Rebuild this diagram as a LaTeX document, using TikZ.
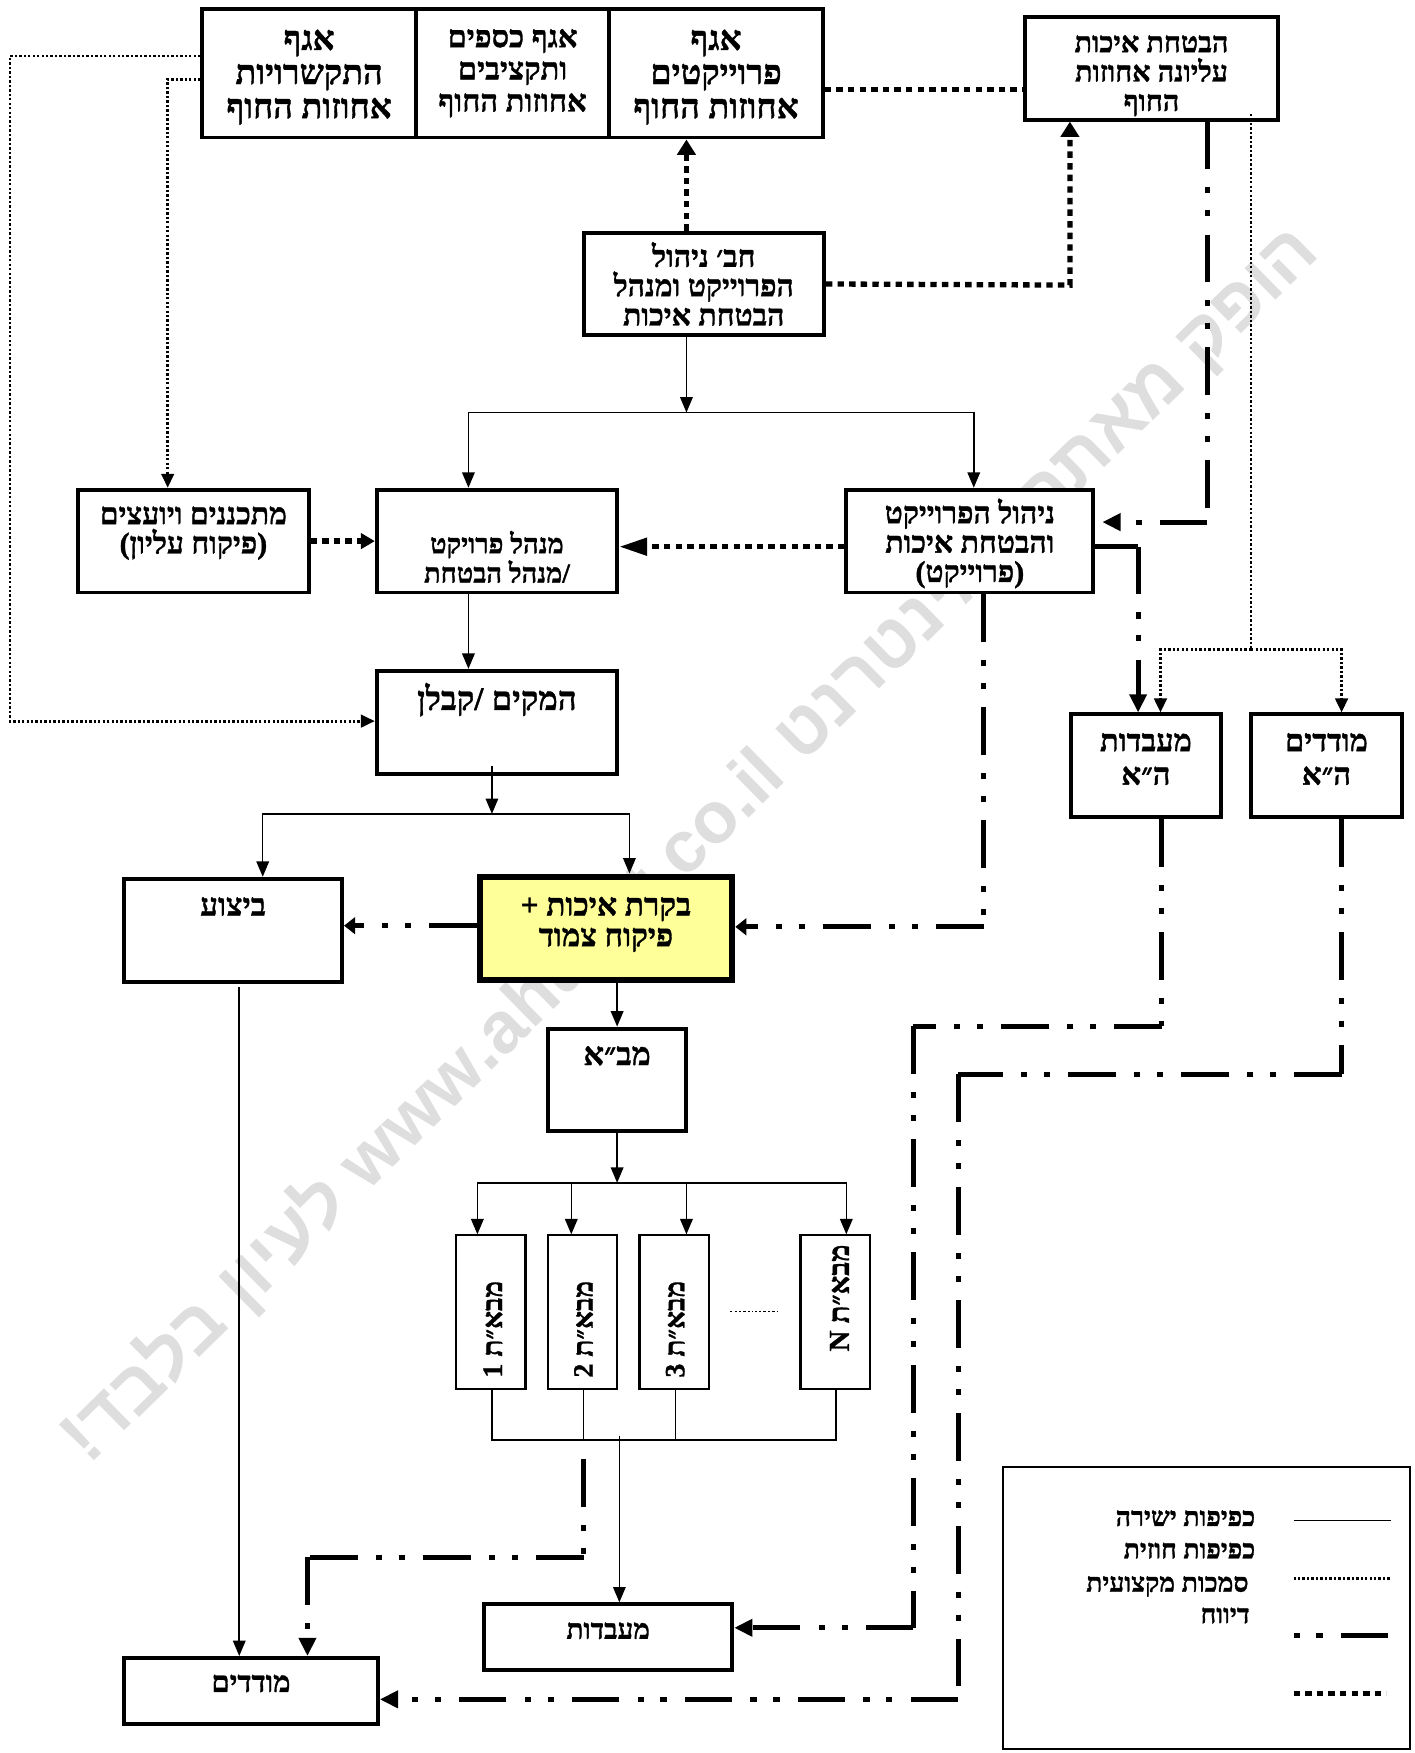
\documentclass[tikz,border=0pt]{standalone}
\usepackage{fontspec}
\usetikzlibrary{arrows.meta}
\TeXXeTstate=1
\newfontfamily\hebfont[Script=Hebrew,BoldFeatures={FakeBold=1.1}]{Liberation Serif}
\newfontfamily\wmfont[Script=Hebrew]{Liberation Sans}
\newcommand{\hb}[1]{\beginR #1\endR}
\newcommand{\txtS}[2]{\hebfont\bfseries\fontsize{#1}{#2}\selectfont}
\definecolor{boxyellow}{HTML}{FFFF99}
\tikzset{
  box/.style={draw=black,fill=white,line width=2.8pt,inner sep=0pt,align=center,font=\txtS{21.5}{21}},
  bigbox/.style={box,font=\txtS{24.5}{24.4}},
  thinbox/.style={draw=black,fill=white,line width=1.5pt,inner sep=0pt},
  rotlbl/.style={rotate=90,inner sep=0pt,font=\txtS{20}{24}},
  lbl/.style={inner sep=0pt,anchor=east,font=\txtS{19}{23}},
  thinline/.style={draw=black,line width=1.1pt},
  thinarrow/.style={thinline,-{Triangle[length=11pt,width=9pt]}},
  fineDots/.style={draw=black,line width=2pt,dash pattern=on 1.7pt off 1.5pt},
  fineDotsArrow/.style={fineDots,-{Triangle[length=10pt,width=9pt]}},
  heavyDots/.style={draw=black,line width=3.8pt,dash pattern=on 4.6pt off 3.7pt},
  heavyDotsArrow/.style={heavyDots,-{Triangle[length=11pt,width=13pt]}},
  report/.style={draw=black,line width=3.7pt,dash pattern=on 34pt off 13pt on 4.4pt off 12pt on 4.4pt off 13pt},
  reportArrow/.style={report,-{Triangle[length=13pt,width=12pt]}},
  reportShort/.style={report,-{Triangle[length=8pt,width=12pt]}},
}
% \bx[style]{name}{x1}{y1}{x2}{y2}{text}
\newcommand{\bx}[7][box]{\node[#1,minimum width={(#5-#3)*0.8pt},minimum height={(#6-#4)*0.8pt}] (#2) at ({(#3+#5)/2},{(#4+#6)/2}) {#7};}
\begin{document}
\begin{tikzpicture}[x=0.8pt,y=-0.8pt]
\useasboundingbox (0,0) rectangle (1264.8,1568);
\fill[white] (0,0) rectangle (1264.8,1568);
% watermark
\node[rotate=44.5,inner sep=0pt,text=black!13] (wm) at (617,755)
  {\wmfont\bfseries\fontsize{52}{56}\selectfont\beginR הופק מאתר האינטרנט \beginL www.ahuzot.co.il\endL{} לעיון בלבד!\endR};

% boxes
\bx[bigbox]{agfC}{181}{8}{372}{123}{\mbox{}\\[-4.2pt]\hb{אגף}\\\hb{התקשרויות}\\\hb{אחוזות החוף}}
\bx[box,font=\txtS{22}{23}]{agfB}{372}{8}{545}{123}{\hb{אגף כספים}\\\hb{ותקציבים}\\\hb{אחוזות החוף}}
\bx[bigbox]{agfA}{545}{8}{736}{123}{\mbox{}\\[-4.2pt]\hb{אגף}\\\hb{פרוייקטים}\\\hb{אחוזות החוף}}
\bx[box,font=\txtS{20.5}{21}]{qa}{917}{15}{1143}{107}{\mbox{}\\[2pt]\hb{הבטחת איכות}\\\hb{עליונה אחוזות}\\\hb{החוף}}
\bx{hq}{522}{208}{737}{300}{\hb{חב׳ ניהול}\\\hb{הפרוייקט ומנהל}\\\hb{הבטחת איכות}}
\bx{plan}{70}{438}{276}{530}{\hb{מתכננים ויועצים}\\\hb{(פיקוח עליון)}\\[-5pt]\mbox{}}
\bx[box,font=\txtS{19.5}{21}]{mgr}{337}{438}{552}{530}{\mbox{}\\[17.6pt]\hb{מנהל פרויקט}\\\hb{/מנהל הבטחת}}
\bx{proj}{757}{438}{978}{530}{\mbox{}\\[0pt]\hb{ניהול הפרוייקט}\\\hb{והבטחת איכות}\\\hb{(פרוייקט)}}
\bx[box,font=\txtS{23.5}{21}]{kab}{337}{600}{552}{692}{\hb{המקים /קבלן}\\[16pt]\mbox{}}
\bx[box,font=\txtS{22.5}{21}]{exec}{111}{786}{306}{878}{\hb{ביצוע}\\[13pt]\mbox{}}
\bx[box,fill=boxyellow,line width=4.3pt,font=\txtS{22.4}{22}]{qc}{429}{784}{655}{877}{\hb{בקרת איכות +}\\\hb{פיקוח צמוד}\\[-12pt]\mbox{}}
\bx[box,font=\txtS{23}{21}]{mba}{490}{920}{614}{1012}{\hb{מב״א}\\[14pt]\mbox{}}
\bx[thinbox]{lab1}{408}{1105}{470}{1242}{}
\bx[thinbox]{lab2}{490}{1105}{552}{1242}{}
\bx[thinbox]{lab3}{572}{1105}{634}{1242}{}
\bx[thinbox]{labN}{716}{1105}{778}{1242}{}
\node[rotlbl] (t1) at (441,1189) {\hb{מבא״ת 1}};
\node[rotlbl] (t2) at (522,1189) {\hb{מבא״ת 2}};
\node[rotlbl] (t3) at (604,1189) {\hb{מבא״ת 3}};
\node[rotlbl,font=\txtS{20.8}{24}] (tN) at (751,1161) {\hb{מבא״ת N}};
\bx[box,font=\txtS{22}{24}]{labHA}{958}{639}{1092}{731}{\hb{מעבדות}\\\hb{ה״א}\\[-14pt]\mbox{}}
\bx[box,font=\txtS{22}{24}]{surHA}{1119}{639}{1254}{731}{\hb{מודדים}\\\hb{ה״א}\\[-14pt]\mbox{}}
\bx[box,font=\txtS{20}{21}]{lab}{433}{1435}{655}{1494}{\hb{מעבדות}\\[-11.4pt]\mbox{}}
\bx[box,font=\txtS{21}{21}]{sur}{111}{1483}{338}{1542}{\hb{מודדים}\\[-10pt]\mbox{}}
\bx[thinbox]{legend}{897}{1312}{1261}{1564}{}

% reporting-chain heavy dotted
\draw[heavyDots] (agfA.east |- 0,80) -- (qa.west |- 0,80);
\draw[heavyDotsArrow] (hq.north -| 614,0) -- (agfA.south -| 614,0);
\draw[heavyDotsArrow] (hq.east) -- (957,255) -- (qa.south -| 957,0);
\draw[heavyDotsArrow,-{Triangle[length=10pt,width=11pt]}] (plan.east |- 0,484) -- (mgr.west |- 0,484);
\draw[heavyDotsArrow,-{Triangle[length=20pt,width=12pt]}] (proj.west |- 0,489) -- (mgr.east |- 0,489);

% direct lines
\coordinate (j1) at (614,369);
\draw[thinarrow] (hq.south -| j1) -- (j1);
\draw[thinarrow] (j1) -- (419,369) -- (mgr.north -| 419,0);
\draw[thinarrow] (j1) -- (871,369) -- (proj.north -| 871,0);
\draw[thinarrow] (mgr.south -| 419,0) -- (kab.north -| 419,0);
\coordinate (j2) at (440,728);
\draw[thinarrow] (440,685) -- (j2);
\draw[thinarrow] (j2) -- (235,728) -- (exec.north -| 235,0);
\draw[thinarrow] (j2) -- (563,728) -- (qc.north -| 563,0);
\draw[thinarrow] (qc.south -| 552,0) -- (mba.north -| 552,0);
\coordinate (j3) at (552,1058);
\draw[thinarrow] (mba.south -| j3) -- (j3);
\draw[thinarrow] (j3) -- (427,1058) -- (lab1.north -| 427,0);
\draw[thinarrow] (j3 -| 511,0) -- (lab2.north -| 511,0);
\draw[thinarrow] (j3 -| 614,0) -- (lab3.north -| 614,0);
\draw[thinarrow] (j3) -- (757,1058) -- (labN.north -| 757,0);
\coordinate (j4) at (604,1288);
\draw[thinline] (lab1.south -| 440,0) -- (440,1288) -- (748,1288) -- (labN.south -| 748,0);
\draw[thinline] (lab2.south -| 522,0) -- (j4 -| 522,0);
\draw[thinline] (lab3.south -| j4) -- (j4);
\draw[thinarrow] (554,1284) -- (lab.north -| 554,0);
\draw[thinarrow] (214,883) -- (sur.north -| 214,0);

% fine dotted
\draw[fineDotsArrow] (agfC.west |- 0,50) -- (9,50) -- (9,645) -- (kab.west |- 0,645);
\draw[fineDotsArrow] (agfC.west |- 0,71) -- (150,71) -- (plan.north -| 150,0);
\coordinate (j5) at (1119,581);
\draw[fineDots] (1119,102) -- (j5);
\draw[fineDotsArrow] (j5) -- (1038,581) -- (labHA.north -| 1038,0);
\draw[fineDotsArrow] (j5) -- (1200,581) -- (surHA.north -| 1200,0);
\node[inner sep=0pt] (gap) at (674,1173) {};
\draw[fineDots,line width=1pt] (653,1173) -- (gap) -- (695,1173);

% professional authority: the dash restarts at every bend
\coordinate (b1) at (1080,467);
\draw[report] (qa.south -| b1) -- (b1);
\draw[reportArrow,shorten >=5pt] (b1) -- (proj.east |- b1);
\coordinate (b2) at (1018,489);
\draw[report] (proj.east |- b2) -- (b2);
\draw[reportArrow] (b2) -- (labHA.north -| b2);
\coordinate (b3) at (880,829);
\draw[report] (proj.south -| b3) -- (b3);
\draw[reportShort] (b3) -- (qc.east |- b3);
\draw[reportShort] (qc.west |- 0,828) -- (exec.east |- 0,828);
\coordinate (b4) at (522,1393);
\coordinate (b5) at (275,1393);
\draw[report] (522,1305) -- (b4);
\draw[report] (b4) -- (b5);
\draw[reportArrow] (b5) -- (sur.north -| b5);
\coordinate (b6) at (1039,918);
\coordinate (b7) at (817,918);
\coordinate (b8) at (817,1456);
\draw[report] (labHA.south -| b6) -- (b6);
\draw[report] (b6) -- (b7);
\draw[report] (b7) -- (b8);
\draw[reportArrow] (b8) -- (lab.east |- b8);
\coordinate (b9) at (1200,961);
\coordinate (b10) at (857,961);
\coordinate (b11) at (857,1520);
\draw[report] (surHA.south -| b9) -- (b9);
\draw[report] (b9) -- (b10);
\draw[report] (b10) -- (b11);
\draw[reportArrow] (b11) -- (sur.east |- b11);

% legend
\node[lbl] (l1) at (1123,1358) {\hb{כפיפות ישירה}};
\node[lbl] (l2) at (1123,1387) {\hb{כפיפות חוזית}};
\node[lbl] (l3) at (1117,1419) {\hb{סמכות מקצועית}};
\node[lbl] (l4) at (1118,1445) {\hb{דיווח}};
\coordinate (k1) at (1157,1360);
\coordinate (k2) at (1157,1412);
\coordinate (k3) at (1157,1463);
\coordinate (k4) at (1157,1515);
\draw[thinline] (k1) -- ++(87,0);
\draw[fineDots] (k2) -- ++(87,0);
\draw[report,dash phase=47pt] (k3) -- ++(87,0);
\draw[heavyDots] (k4) -- ++(83,0);
\end{tikzpicture}
\end{document}
